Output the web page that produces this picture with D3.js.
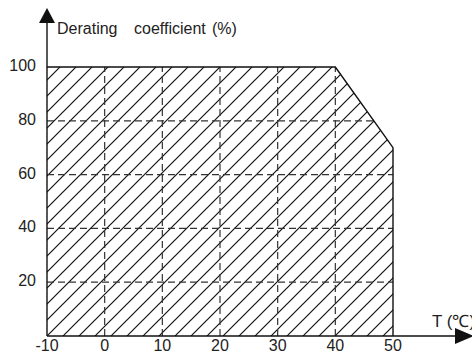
<!DOCTYPE html>
<html>
<head>
<meta charset="utf-8">
<script src="https://cdn.jsdelivr.net/npm/d3@7"></script>
<style>
  body { margin: 0; background: #fff; }
  svg { display: block; font-family: Arial, "Liberation Sans", sans-serif; }
</style>
</head>
<body>
<script>
// derating curve (temperature in degC -> coefficient in %)
var temps = [-10, 40, 50];
var coefs = [100, 100, 70];
var xTicks = [-10, 0, 10, 20, 30, 40, 50];
var yTicks = [20, 40, 60, 80, 100];
var yTitleWords = ["Derating", "coefficient", "(%)"];
var xTitle = "T (\u2103)";

var w = 472, h = 353;

var x = d3.scaleLinear().domain([-10, 50]).range([47, 393]);
var y = d3.scaleLinear().domain([0, 100]).range([336, 67]);

var svg = d3.select("body").append("svg")
  .attr("width", w)
  .attr("height", h);

var curve = temps.map(function (t, i) { return [t, coefs[i]]; });
var area = [[temps[0], 0]].concat(curve).concat([[temps[temps.length - 1], 0]]);

var line = d3.line()
  .x(function (d) { return x(d[0]); })
  .y(function (d) { return y(d[1]); });

var defs = svg.append("defs");

// hatching
var s = 16;
defs.append("pattern")
  .attr("id", "hatch")
  .attr("patternUnits", "userSpaceOnUse")
  .attr("width", s)
  .attr("height", s)
  .attr("x", (x(-10) + y(0)) % s)
  .append("path")
  .attr("d", "M0," + s + "L" + s + ",0M-2,2L2,-2M" + (s - 2) + "," + (s + 2) + "L" + (s + 2) + "," + (s - 2))
  .attr("stroke", "#111")
  .attr("stroke-width", 1.2);

defs.append("clipPath").attr("id", "clip")
  .append("path")
  .attr("d", line(area) + "Z");

svg.append("path")
  .attr("d", line(area) + "Z")
  .attr("fill", "url(#hatch)");

// dashed grid, clipped to region
var grid = svg.append("g").attr("clip-path", "url(#clip)")
  .attr("stroke", "#333")
  .attr("stroke-width", 1.2)
  .attr("stroke-dasharray", "7,4");

grid.selectAll("line.v")
  .data(xTicks.filter(function (d) { return d > -10 && d < 50; }))
  .enter().append("line")
  .attr("x1", function (d) { return x(d); })
  .attr("x2", function (d) { return x(d); })
  .attr("y1", y(0))
  .attr("y2", y(100));

grid.selectAll("line.h")
  .data(yTicks.filter(function (d) { return d < 100; }))
  .enter().append("line")
  .attr("x1", x(-10))
  .attr("x2", x(50))
  .attr("y1", function (d) { return y(d); })
  .attr("y2", function (d) { return y(d); });

// outline of curve
svg.append("path")
  .attr("d", line(curve.concat([[temps[temps.length - 1], 0]])))
  .attr("fill", "none")
  .attr("stroke", "#111")
  .attr("stroke-width", 1.4);

// axes with arrows
svg.append("line")
  .attr("x1", x(-10)).attr("x2", x(-10))
  .attr("y1", y(0)).attr("y2", 20)
  .attr("stroke", "#111").attr("stroke-width", 1.4);
svg.append("path")
  .attr("d", "M" + x(-10) + ",8L" + (x(-10) - 8) + ",23L" + (x(-10) + 8) + ",23Z")
  .attr("fill", "#111");

svg.append("line")
  .attr("x1", x(-10)).attr("x2", 458)
  .attr("y1", y(0)).attr("y2", y(0))
  .attr("stroke", "#111").attr("stroke-width", 1.4);
svg.append("path")
  .attr("d", "M474," + y(0) + "L455," + (y(0) - 8) + "L455," + (y(0) + 8) + "Z")
  .attr("fill", "#111");

// tick labels
svg.append("g").selectAll("text")
  .data(yTicks)
  .enter().append("text")
  .attr("x", 36)
  .attr("y", function (d) { return y(d) + 4; })
  .attr("text-anchor", "end")
  .attr("font-size", 16)
  .attr("fill", "#222")
  .text(function (d) { return d; });

svg.append("g").selectAll("text")
  .data(xTicks)
  .enter().append("text")
  .attr("x", function (d) { return x(d); })
  .attr("y", 351)
  .attr("text-anchor", "middle")
  .attr("font-size", 16)
  .attr("fill", "#222")
  .text(function (d) { return d; });

var title = svg.append("text")
  .attr("y", 34)
  .attr("font-size", 16)
  .attr("fill", "#222");
title.selectAll("tspan")
  .data(yTitleWords)
  .enter().append("tspan")
  .attr("x", function (d, i) { return [57, 134, 212][i]; })
  .text(function (d) { return d; });

svg.append("text")
  .attr("x", 432)
  .attr("y", 327)
  .attr("font-size", 17)
  .attr("fill", "#222")
  .text(xTitle);
</script>
</body>
</html>
